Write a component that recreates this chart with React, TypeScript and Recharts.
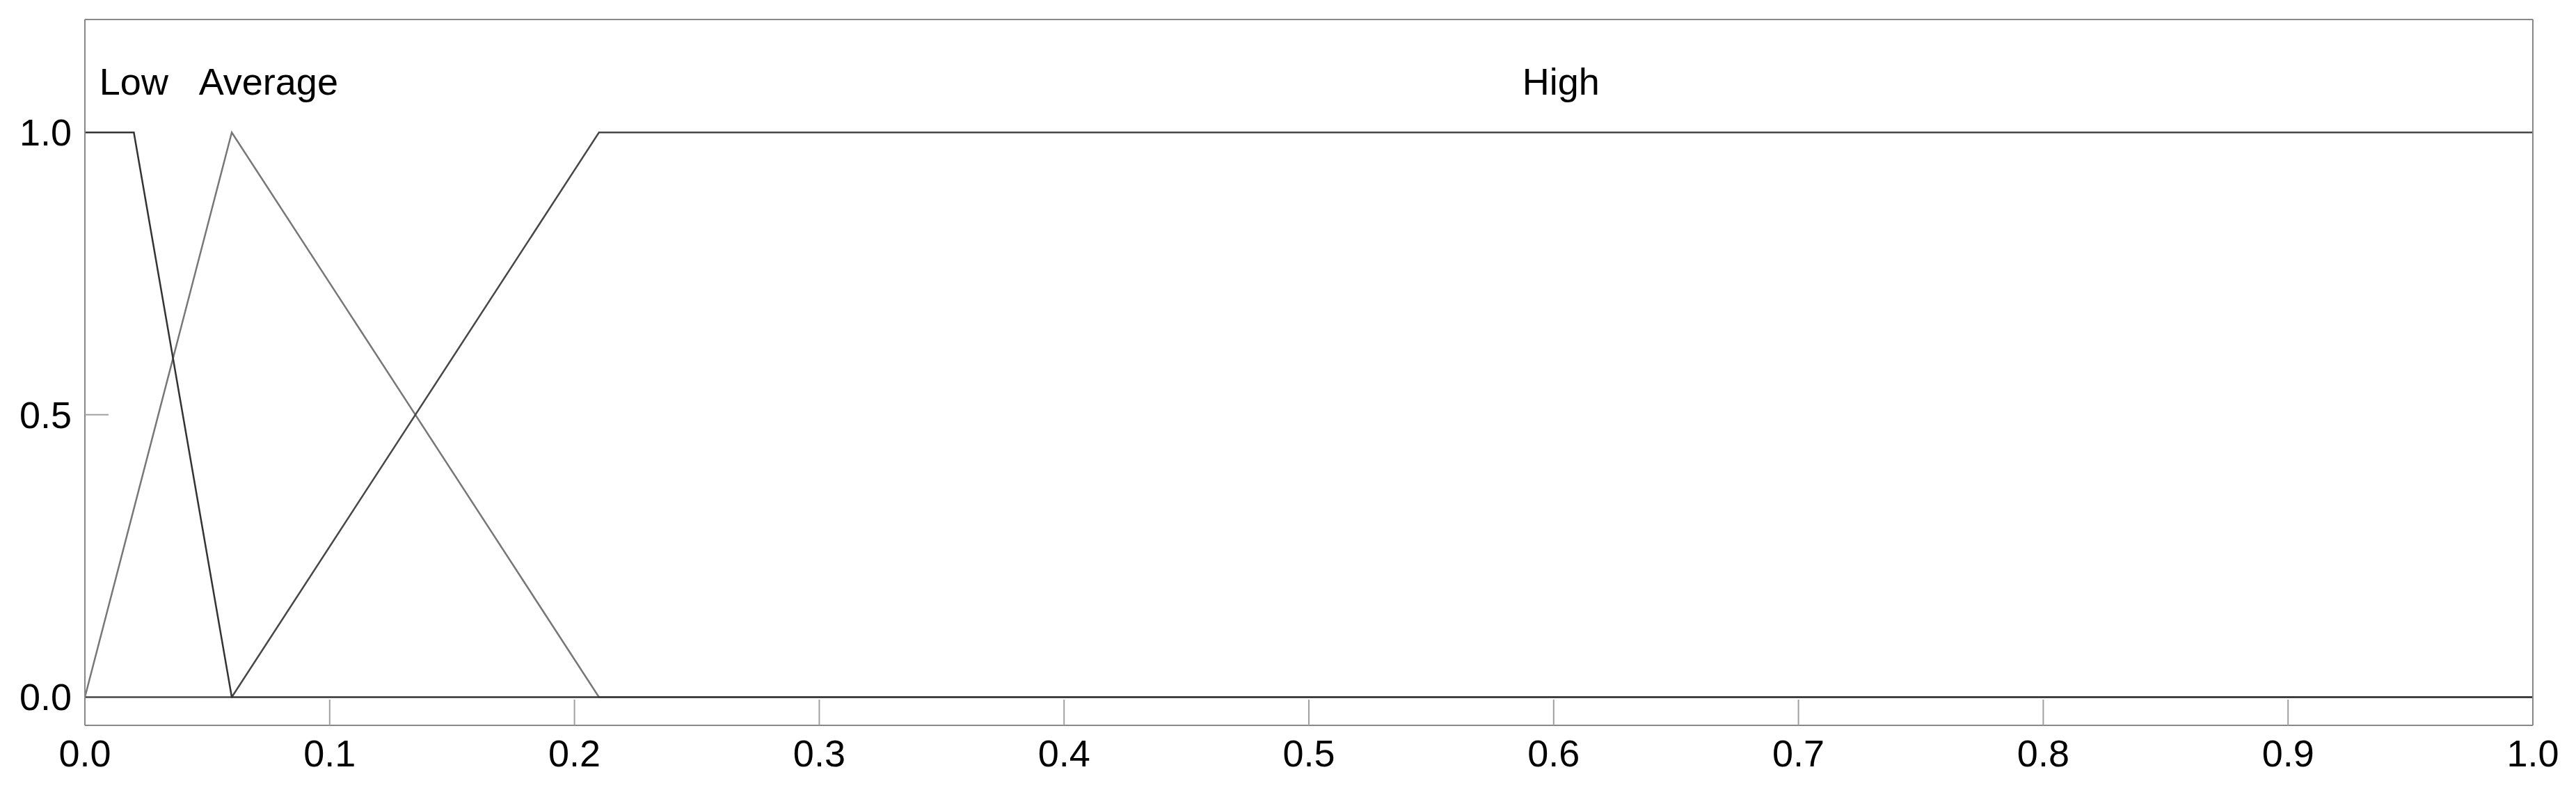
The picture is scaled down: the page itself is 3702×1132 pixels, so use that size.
import { LineChart, Line, XAxis, YAxis, ReferenceDot } from 'recharts';

// membership functions (x, degree)
const lowX = [0, 0.02, 0.06, 1];
const lowY = [1, 1, 0, 0];
const avgX = [0, 0.06, 0.21, 1];
const avgY = [0, 1, 0, 0];
const highX = [0, 0.06, 0.21, 1];
const highY = [0, 0, 1, 1];

const xTicks = [0, 0.1, 0.2, 0.3, 0.4, 0.5, 0.6, 0.7, 0.8, 0.9, 1];
const yTicks = [0, 0.5, 1];
// tick marks at 0 and 1 sit under the curves in the original
const yTickMarks = [0.5];

const termNames = ['Low', 'Average', 'High'];
const termX = [0.02, 0.075, 0.603];
const termY = 1.09;

const FONT = '"Liberation Sans", Arial, sans-serif';
const FRAME = '#888888';
const TICK = '#a0a0a0';
const Y_TICK_LEN = 34;
const Y_LABEL_GAP = 19;

const toPoints = (xs: number[], ys: number[]) => xs.map((x, i) => ({ x, y: ys[i] }));

function LeftTick(props: any) {
  const { x, y, payload } = props;
  const edge = x + Y_LABEL_GAP;
  return (
    <g>
      {yTickMarks.includes(payload.value) && (
        <line x1={edge} x2={edge + Y_TICK_LEN} y1={y} y2={y} stroke={TICK} strokeWidth={2} />
      )}
      <text x={x} y={y} dy={19} textAnchor="end" fontSize={54} fill="#000" fontFamily={FONT}>
        {payload.value.toFixed(1)}
      </text>
    </g>
  );
}

export default function App() {
  const fmt = (v: number) => v.toFixed(1);
  const tickStyle = { fontSize: 54, fill: '#000', fontFamily: FONT };

  return (
    <div style={{ width: 3686, height: 1116, background: '#fff' }}>
      <LineChart width={3686} height={1116} margin={{ top: 19, right: 0, bottom: 0, left: 0 }}>
        <XAxis
          dataKey="x"
          type="number"
          domain={[0, 1]}
          ticks={xTicks}
          tickFormatter={fmt}
          height={82}
          tickSize={-37}
          tickMargin={58}
          tick={tickStyle}
          axisLine={{ stroke: FRAME, strokeWidth: 2 }}
          tickLine={{ stroke: TICK, strokeWidth: 2 }}
        />
        <XAxis
          xAxisId="top"
          orientation="top"
          dataKey="x"
          type="number"
          domain={[0, 1]}
          ticks={xTicks}
          tickFormatter={() => ''}
          height={1}
          tickSize={-34}
          axisLine={{ stroke: FRAME, strokeWidth: 2 }}
          tickLine={{ stroke: TICK, strokeWidth: 2 }}
        />
        <YAxis
          type="number"
          domain={[-0.05, 1.2]}
          ticks={yTicks}
          width={114}
          tickSize={0}
          tickMargin={Y_LABEL_GAP}
          tickLine={false}
          tick={<LeftTick />}
          axisLine={{ stroke: FRAME, strokeWidth: 2 }}
        />
        <YAxis
          yAxisId="right"
          orientation="right"
          type="number"
          domain={[-0.05, 1.2]}
          ticks={yTicks}
          tickFormatter={() => ''}
          width={54}
          tickSize={-Y_TICK_LEN}
          axisLine={{ stroke: FRAME, strokeWidth: 2 }}
          tickLine={{ stroke: TICK, strokeWidth: 2 }}
        />
        <Line data={toPoints(avgX, avgY)} dataKey="y" stroke="#777777" strokeWidth={2.5} dot={false} isAnimationActive={false} />
        <Line data={toPoints(highX, highY)} dataKey="y" stroke="#474747" strokeWidth={2.5} dot={false} isAnimationActive={false} />
        <Line data={toPoints(lowX, lowY)} dataKey="y" stroke="#333333" strokeWidth={2.5} dot={false} isAnimationActive={false} />
        {termNames.map((name, i) => (
          <ReferenceDot
            key={name}
            x={termX[i]}
            y={termY}
            r={0}
            stroke="none"
            fill="none"
            label={{ value: name, position: 'center', fontSize: 54, fill: '#000', fontFamily: FONT }}
          />
        ))}
      </LineChart>
    </div>
  );
}
